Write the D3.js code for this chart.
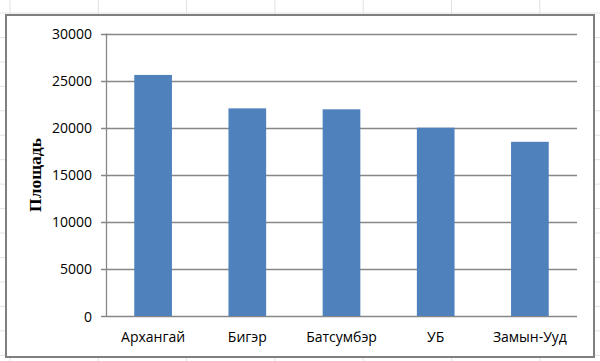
<!DOCTYPE html>
<html><head><meta charset="utf-8">
<script src="https://cdn.jsdelivr.net/npm/d3@7"></script>
<style>html,body{margin:0;padding:0;background:#fff;}svg{display:block;}</style>
</head><body>
<svg id="c" width="600" height="361"></svg>
<script>
const categories = ["Архангай", "Бигэр", "Батсумбэр", "УБ", "Замын-Ууд"];
const values = [25600, 22050, 21950, 20000, 18500];
const yTicks = [0, 5000, 10000, 15000, 20000, 25000, 30000];
const yTitle = "Площадь";

(function () {
const svg = d3.select("#c");
const W = 600, H = 361;

// spreadsheet cell grid in background
const bg = svg.append("g");
for (let gx = 10; gx < W; gx += 88.3) bg.append("line").attr("x1", gx).attr("x2", gx).attr("y1", 0).attr("y2", H).attr("stroke", "#e2e2e2").attr("stroke-width", 1);
for (let gy = 13; gy < H; gy += 24.45) bg.append("line").attr("y1", gy).attr("y2", gy).attr("x1", 0).attr("x2", W).attr("stroke", "#e2e2e2").attr("stroke-width", 1);

// chart area
svg.append("rect").attr("x", 6).attr("y", 15).attr("width", 588).attr("height", 342)
  .attr("fill", "#fff").attr("stroke", "#7f7f7f").attr("stroke-width", 2);

const pL = 106, pR = 577, pT = 33.5, pB = 316;
const x = d3.scaleBand().domain(categories).range([pL, pR]).paddingInner(0.6).paddingOuter(0.3);
const y = d3.scaleLinear().domain([0, 30000]).range([pB, pT]);

// gridlines
svg.append("g").selectAll("line").data(yTicks).join("line")
  .attr("x1", pL - 5).attr("x2", pR)
  .attr("y1", d => Math.round(y(d)) + 0.5).attr("y2", d => Math.round(y(d)) + 0.5)
  .attr("stroke", "#878787").attr("stroke-width", 1.3);

// y axis line
svg.append("line").attr("x1", pL + 0.5).attr("x2", pL + 0.5).attr("y1", pT).attr("y2", pB)
  .attr("stroke", "#878787").attr("stroke-width", 1.3);

// bars
svg.append("g").selectAll("rect").data(values).join("rect")
  .attr("x", (d, i) => x(categories[i]))
  .attr("width", x.bandwidth())
  .attr("y", d => y(d))
  .attr("height", d => pB - y(d))
  .attr("fill", "#4f81bd");

// y tick labels
const yAxis = d3.axisLeft(y).tickValues(yTicks).tickSize(0).tickPadding(0).tickFormat(d3.format("d"));
const ya = svg.append("g").attr("transform", "translate(92,0)").call(yAxis);
ya.select(".domain").remove();
ya.selectAll("text").attr("font-family", "'Open Sans', sans-serif").attr("font-size", 14).attr("fill", "#000").attr("dy", "0.36em");

// x labels
const xAxis = d3.axisBottom(x).tickSize(0).tickPadding(0);
const xa = svg.append("g").attr("transform", `translate(0,${pB})`).call(xAxis);
xa.select(".domain").remove();
xa.selectAll("text").attr("font-family", "'Open Sans', sans-serif").attr("font-size", 14).attr("fill", "#000")
  .attr("y", 26).attr("dy", 0);

// y title
svg.append("text").attr("transform", "translate(41,175) rotate(-90)")
  .attr("text-anchor", "middle")
  .attr("font-family", "'Liberation Serif', 'Times New Roman', serif")
  .attr("font-weight", "bold").attr("font-size", 17.5).attr("fill", "#000")
  .text(yTitle);
})();
</script>
</body></html>
